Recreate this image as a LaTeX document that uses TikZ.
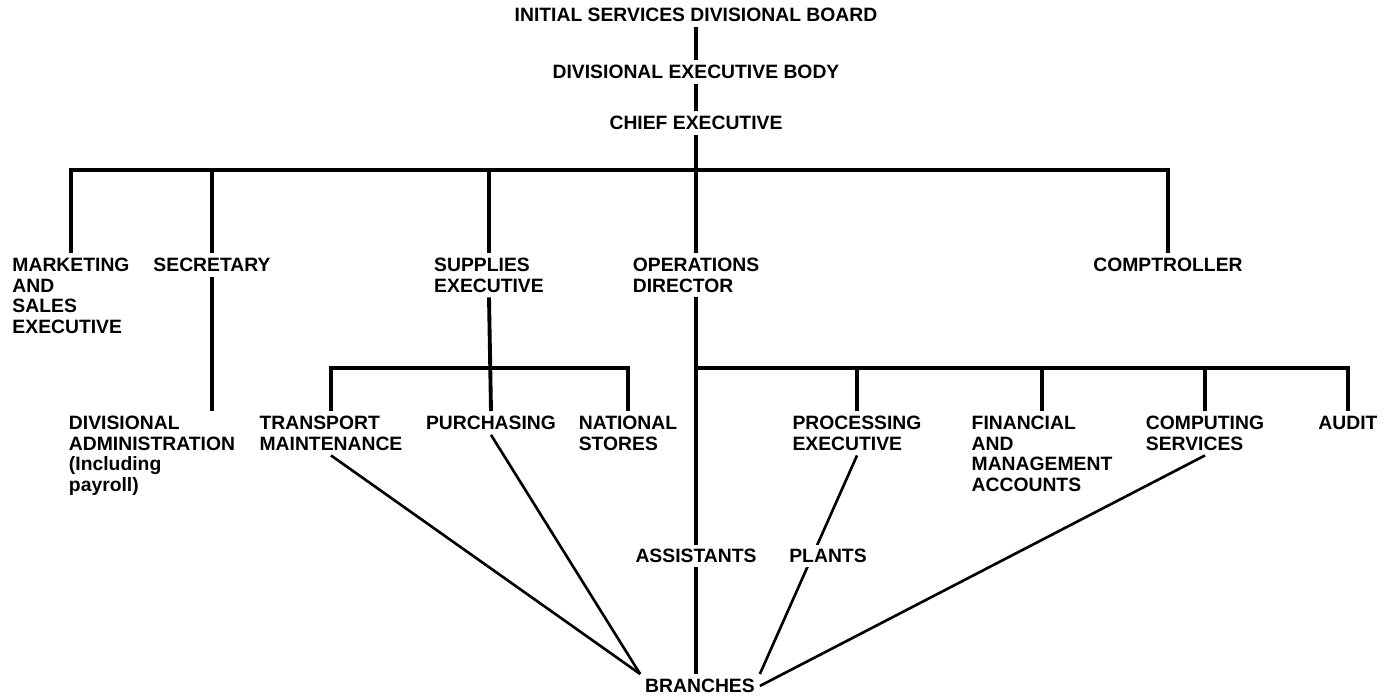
\documentclass[tikz,border=0pt]{standalone}
\usepackage{fontspec}
\setmainfont{Liberation Sans}
\usetikzlibrary{positioning}

\begin{document}
\begin{tikzpicture}[x=0.02cm, y=-0.02cm, thick,
unit node/.style={font=\bfseries\fontsize{11}{11.7}\selectfont,align=left,inner sep=2.5pt,anchor=north},
main line/.style={line width=2.2pt},
branch line/.style={line width=1.5pt}]
\useasboundingbox (0,0) rectangle (1389,697);

\node[unit node] (board) at (696,3) {INITIAL SERVICES DIVISIONAL BOARD};
\node[unit node] (dexec) [below = 0.66cm of board] {DIVISIONAL EXECUTIVE BODY};
\node[unit node] (chief) [below = 0.54cm of dexec] {CHIEF EXECUTIVE};

\coordinate (bar) at (696,170);
\coordinate (subsup) at (490,368);
\coordinate (subops) at (696,368);

\node[unit node] (mkt) at (71,253) {MARKETING\\AND\\SALES\\EXECUTIVE};
\node[unit node] (sec) at (212,253) {SECRETARY};
\node[unit node] (sup) at (489,253) {SUPPLIES\\EXECUTIVE};
\node[unit node] (ops) at (696,253) {OPERATIONS\\DIRECTOR};
\node[unit node] (comp) at (1168,253) {COMPTROLLER};

\node[unit node] (divadm) at (152,411) {DIVISIONAL\\ADMINISTRATION\\(Including\\payroll)};
\node[unit node] (trans) at (331,411) {TRANSPORT\\MAINTENANCE};
\node[unit node] (pur) at (491,411) {PURCHASING};
\node[unit node] (nat) at (628,411) {NATIONAL\\STORES};
\node[unit node] (proc) at (857,411) {PROCESSING\\EXECUTIVE};
\node[unit node] (fin) at (1042,411) {FINANCIAL\\AND\\MANAGEMENT\\ACCOUNTS};
\node[unit node] (cpt) at (1205,411) {COMPUTING\\SERVICES};
\node[unit node] (aud) at (1348,411) {AUDIT};

\node[unit node] (br) at (700,674) {BRANCHES};

% spine
\draw[main line] (board.south) -- (dexec.north);
\draw[main line] (dexec.south) -- (chief.north);
\draw[main line] (chief.south) -- (ops.north);
\draw[main line] (ops.south) -- (ops.south |- br.north);

% first level
\draw[main line] (mkt.north) |- (bar) -| (comp.north);
\foreach \x in {sec,sup}
\path[main line] (\x.north |- bar) edge (\x.north);
\draw[main line] (sec.south) -- (sec.south |- divadm.north);

% supplies
\draw[main line] (trans.north) |- (subsup) -| (nat.north);
\draw[main line] (sup.south) -- (pur.north);

% operations
\draw[main line] (subops) -| (aud.north);
\foreach \x in {proc,fin,cpt}
\path[main line] (\x.north |- subops) edge (\x.north);

% branches
\foreach \x in {trans,pur}
\path[branch line] (\x.south) edge (br.north west);
\draw[branch line] (proc.south) -- (br.north east);
\draw[branch line] (cpt.south) -- (br.east);

\node[unit node, fill=white] (assist) at (696,544) {ASSISTANTS};
\node[unit node, fill=white] (plants) at (828,544) {PLANTS};
\end{tikzpicture}
\end{document}
